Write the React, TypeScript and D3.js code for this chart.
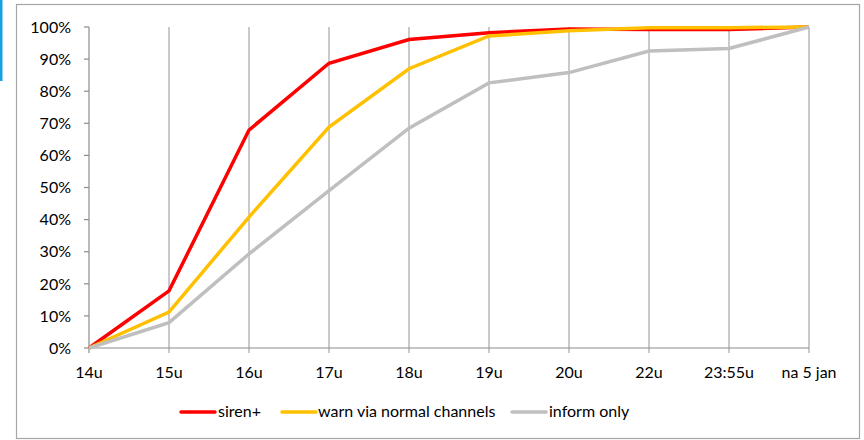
import React from "react";
import * as d3 from "d3";

const categories = ["14u", "15u", "16u", "17u", "18u", "19u", "20u", "22u", "23:55u", "na 5 jan"];
const sirenPlus = [0, 17.8, 67.9, 88.7, 96.1, 98.2, 99.4, 99.2, 99.2, 100];
const warnNormal = [0, 11.2, 40.8, 68.8, 87.0, 97.2, 98.8, 99.8, 99.8, 100];
const informOnly = [0, 7.9, 29.3, 49.0, 68.5, 82.6, 85.8, 92.5, 93.3, 100];
const yTicks = [0, 10, 20, 30, 40, 50, 60, 70, 80, 90, 100];

const seriesList = [
  { name: "siren+", values: sirenPlus, color: "#ff0000" },
  { name: "warn via normal channels", values: warnNormal, color: "#ffc000" },
  { name: "inform only", values: informOnly, color: "#bfbfbf" },
];

export default function App() {
  const W = 864, H = 440;
  const x = d3.scalePoint<string>().domain(categories).range([89, 809]);
  const y = d3.scaleLinear().domain([0, 100]).range([348, 27]);
  const line = d3
    .line<number>()
    .x((_, i) => x(categories[i]) as number)
    .y((d) => y(d));
  const font = "Lato, 'Open Sans', sans-serif";
  const axisColor = "#8c8c8c";
  const gridColor = "#a6a6a6";

  const legendItems = [
    { lx: 181, tx: 218 },
    { lx: 282, tx: 318 },
    { lx: 512, tx: 549 },
  ];

  return (
    <svg
      width={W}
      height={H}
      style={{ position: "absolute", left: 0, top: 0, display: "block" }}
      fontFamily={font}
    >
      <rect x={0} y={0} width={W} height={H} fill="#ffffff" />
      <rect x={0} y={0} width={2.5} height={81} fill="#1ba1e2" />
      <rect x={16.5} y={4.5} width={843} height={434} fill="#ffffff" stroke="#a6a6a6" strokeWidth={1.2} />

      {categories.slice(1).map((c) => (
        <line key={"g" + c} x1={x(c)} x2={x(c)} y1={y(100)} y2={y(0) + 5} stroke={gridColor} strokeWidth={1.2} />
      ))}

      <line x1={89} x2={89} y1={y(100)} y2={y(0)} stroke={axisColor} strokeWidth={1.2} />
      {yTicks.map((t) => (
        <g key={"y" + t}>
          <line x1={84} x2={89} y1={y(t)} y2={y(t)} stroke={axisColor} strokeWidth={1.2} />
          <text x={71} y={y(t)} dy="0.36em" textAnchor="end" fontSize={16} fill="#000">
            {t}%
          </text>
        </g>
      ))}

      <line x1={89} x2={809} y1={y(0)} y2={y(0)} stroke={axisColor} strokeWidth={1.2} />
      <line x1={89} x2={89} y1={y(0)} y2={y(0) + 5} stroke={axisColor} strokeWidth={1.2} />
      {categories.map((c) => (
        <text key={"x" + c} x={x(c)} y={378} textAnchor="middle" fontSize={16} fill="#000">
          {c}
        </text>
      ))}

      {seriesList.map((s) => (
        <path
          key={s.name}
          d={line(s.values) || ""}
          fill="none"
          stroke={s.color}
          strokeWidth={3.5}
          strokeLinejoin="miter"
          strokeLinecap="butt"
        />
      ))}

      {seriesList.map((s, i) => (
        <g key={"l" + s.name}>
          <line
            x1={legendItems[i].lx}
            x2={legendItems[i].lx + 34}
            y1={412}
            y2={412}
            stroke={s.color}
            strokeWidth={3.5}
            strokeLinecap="round"
          />
          <text x={legendItems[i].tx} y={417} fontSize={16} fill="#000">
            {s.name}
          </text>
        </g>
      ))}
    </svg>
  );
}
